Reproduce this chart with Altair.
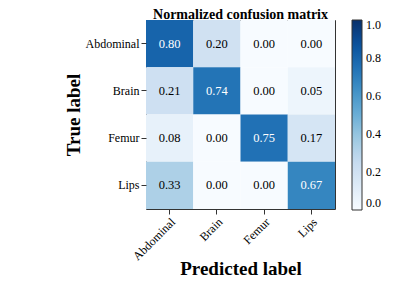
import altair as alt
import pandas as pd

classes = ["Abdominal", "Brain", "Femur", "Lips"]
row_abdominal = [0.80, 0.20, 0.00, 0.00]
row_brain = [0.21, 0.74, 0.00, 0.05]
row_femur = [0.08, 0.00, 0.75, 0.17]
row_lips = [0.33, 0.00, 0.00, 0.67]
rows = [row_abdominal, row_brain, row_femur, row_lips]

blues = ["#f7fbff", "#deebf7", "#c6dbef", "#9ecae1", "#6baed6",
         "#4292c6", "#2171b5", "#08519c", "#08306b"]
stops = [i / 8 for i in range(9)]
colorbar_ticks = [0, 0.2, 0.4, 0.6, 0.8, 1.0]

records = []
for t, vals in zip(classes, rows):
    for p, v in zip(classes, vals):
        records.append({"true": t, "pred": p, "value": v})
df = pd.DataFrame(records)

FONT = "Liberation Serif"

base = alt.Chart(df)
heat = base.mark_rect(strokeWidth=0).encode(
    x=alt.X("pred:N", sort=classes, scale=alt.Scale(paddingInner=0, paddingOuter=0),
            axis=alt.Axis(title="Predicted label", labelAngle=-45, labelAlign="right",
                          labelBaseline="top", titleX=94.5, titleY=59,
                          titleBaseline="middle", titleFontSize=19, titleFontWeight="bold",
                          labelFontSize=12, tickSize=5, labelPadding=2, domain=False)),
    y=alt.Y("true:N", sort=classes, scale=alt.Scale(paddingInner=0, paddingOuter=0),
            axis=alt.Axis(title="True label", titleAngle=-90, titleX=-73, titleY=94.5,
                          titleBaseline="middle", titleAlign="center",
                          titleFontSize=19, titleFontWeight="bold",
                          labelFontSize=12, tickSize=5, labelPadding=2, domain=False)),
    color=alt.Color("value:Q",
                    scale=alt.Scale(domain=stops, range=blues, type="linear"),
                    legend=alt.Legend(title=None, gradientLength=190, gradientThickness=10,
                                      offset=17, format=".1f", labelFontSize=12,
                                      gradientStrokeColor="#333", gradientStrokeWidth=1,
                                      labelOffset=4, values=colorbar_ticks,
                                      labelBaseline="middle",
                                      direction="vertical")),
)
txt = base.mark_text(fontSize=12.5, font=FONT).encode(
    x=alt.X("pred:N", sort=classes),
    y=alt.Y("true:N", sort=classes),
    text=alt.Text("value:Q", format=".2f"),
    color=alt.condition(alt.datum.value > 0.5, alt.value("white"), alt.value("black")),
)

chart = alt.layer(heat, txt).properties(
    width=189, height=189,
    title=alt.TitleParams("Normalized confusion matrix", fontSize=14, font=FONT,
                          fontWeight="bold", offset=0, dy=1.5, anchor="middle"),
    padding={"left": 138, "top": 12, "right": 50, "bottom": 70},
    autosize=alt.AutoSizeParams(type="none"),
).configure(font=FONT).configure_view(stroke="#333", strokeWidth=1).configure_axis(
    labelFont=FONT, titleFont=FONT, labelColor="black", titleColor="black", tickColor="#333"
).configure_legend(labelFont=FONT, labelColor="black")

chart.save("out.html", embed_options={"renderer": "svg", "actions": False})
